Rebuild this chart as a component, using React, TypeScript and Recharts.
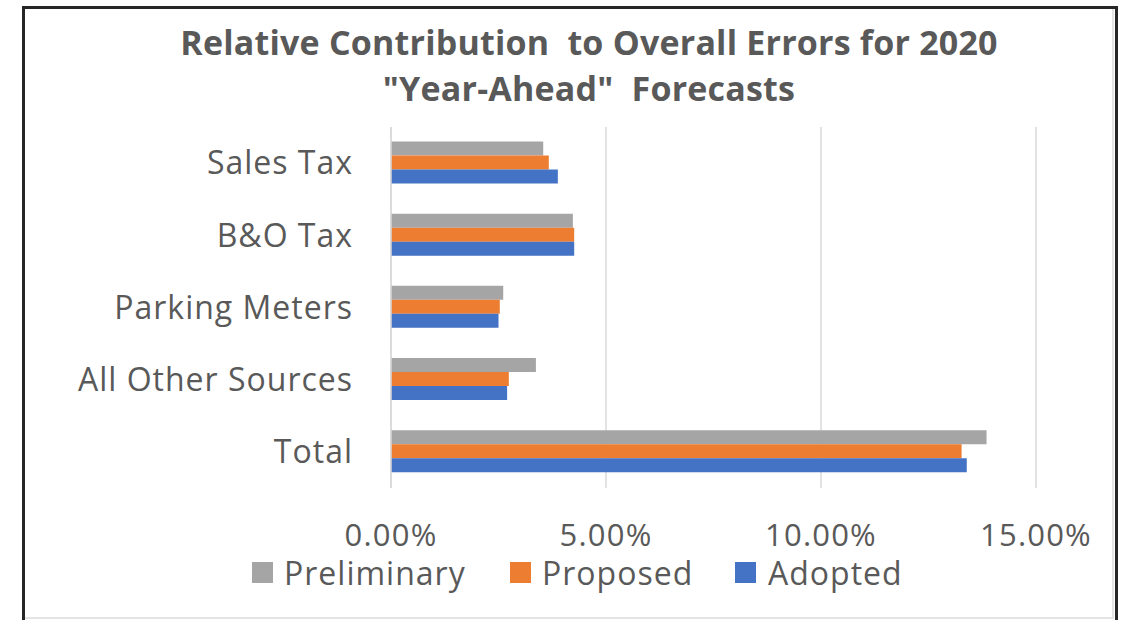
import React from "react";
import { BarChart, Bar, XAxis, YAxis, CartesianGrid } from "recharts";

const categories = ["Sales Tax", "B&O Tax", "Parking Meters", "All Other Sources", "Total"];
const preliminary = [0.0354, 0.0423, 0.0261, 0.0337, 0.1385];
const proposed = [0.0367, 0.0426, 0.0253, 0.0274, 0.1327];
const adopted = [0.0388, 0.0426, 0.025, 0.027, 0.1339];
const xTicks = [0, 0.05, 0.1, 0.15];
const seriesNames = ["Preliminary", "Proposed", "Adopted"];
const seriesColors = ["#A5A5A5", "#ED7D31", "#4472C4"];
const titleLines = ["Relative Contribution  to Overall Errors for 2020", "\"Year-Ahead\"  Forecasts"];

const data = categories.map((c, i) => ({
  name: c,
  Preliminary: preliminary[i],
  Proposed: proposed[i],
  Adopted: adopted[i],
}));

const FONT = "'Open Sans', 'DejaVu Sans', sans-serif";
const TEXT = "#595959";

const legendSquareX = [252, 510, 735];
const legendTextX = [284, 542, 768];

export default function App() {
  return (
    <div style={{ position: "absolute", left: 0, top: 0, width: 1128, height: 620, overflow: "hidden", background: "#fff" }}>
      <div style={{ position: "absolute", left: 22, top: 6, width: 1090, height: 700, border: "3px solid #262626" }} />
      <div style={{ position: "absolute", left: 25, top: 9, width: 1087, height: 608, borderRight: "2px solid #e4e4e4", borderBottom: "2px solid #e4e4e4" }} />
      <div
        style={{
          position: "absolute",
          left: 0,
          top: 19,
          width: 1178,
          textAlign: "center",
          fontFamily: FONT,
          fontWeight: 700,
          fontSize: 34,
          lineHeight: "46px",
          color: TEXT,
          letterSpacing: 0.2,
          whiteSpace: "pre",
        }}
      >
        {titleLines.join("\n")}
      </div>
      <div style={{ position: "absolute", left: 0, top: 0 }}>
        <BarChart
          width={1128}
          height={620}
          data={data}
          layout="vertical"
          margin={{ top: 127, right: 92, bottom: 102, left: 0 }}
          barCategoryGap="20%"
          barGap={0}
        >
          <CartesianGrid horizontal={false} vertical={true} stroke="#D9D9D9" strokeWidth={1.5} />
          <XAxis
            type="number"
            domain={[0, 0.15]}
            ticks={xTicks}
            height={30}
            tickFormatter={(v: number) => (v * 100).toFixed(2) + "%"}
            axisLine={false}
            tickLine={false}
            tickSize={0}
            tickMargin={36}
            tick={{ fill: TEXT, fontSize: 31, fontFamily: FONT, letterSpacing: 1.2 }}
            interval={0}
          />
          <YAxis
            type="category"
            dataKey="name"
            width={391}
            axisLine={{ stroke: "#D9D9D9", strokeWidth: 1.5 }}
            tickLine={false}
            tickSize={0}
            tickMargin={38}
            tick={{ fill: TEXT, fontSize: 32, fontFamily: FONT, letterSpacing: 1 }}
            interval={0}
          />
          {seriesNames.map((n, i) => (
            <Bar key={n} dataKey={n} fill={seriesColors[i]} isAnimationActive={false} />
          ))}
        </BarChart>
      </div>
      {seriesNames.map((n, i) => (
        <React.Fragment key={n}>
          <div style={{ position: "absolute", left: legendSquareX[i], top: 562, width: 21, height: 21, background: seriesColors[i] }} />
          <div
            style={{
              position: "absolute",
              left: legendTextX[i],
              top: 557,
              height: 32,
              lineHeight: "32px",
              fontFamily: FONT,
              fontSize: 32,
              letterSpacing: 1,
              color: TEXT,
              whiteSpace: "nowrap",
            }}
          >
            {n}
          </div>
        </React.Fragment>
      ))}
    </div>
  );
}
